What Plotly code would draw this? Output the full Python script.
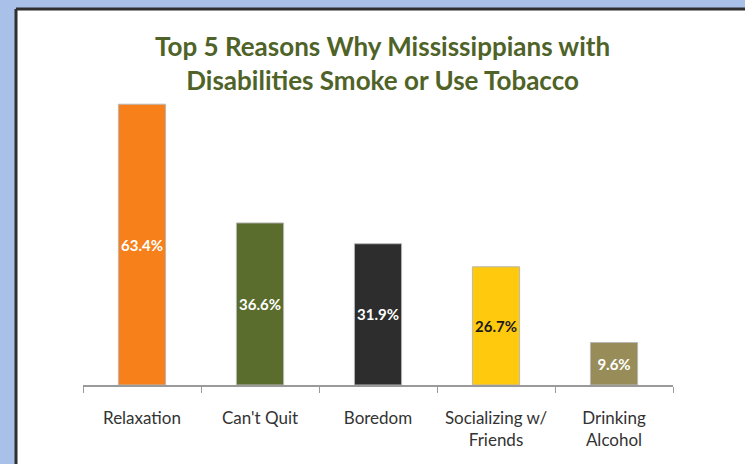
import plotly.graph_objects as go

categories = ["Relaxation", "Can't Quit", "Boredom", "Socializing w/<br>Friends", "Drinking<br>Alcohol"]
values = [63.4, 36.6, 31.9, 26.7, 9.6]
labels = ["63.4%", "36.6%", "31.9%", "26.7%", "9.6%"]
bar_colors = ["#F7801B", "#5A6D2D", "#2D2D2D", "#FFC90E", "#988D58"]
label_colors = ["#FFFFFF", "#FFFFFF", "#FFFFFF", "#1A1A1A", "#FFFFFF"]

W, H = 745, 464
L, R, T, B = 83, 72, 75, 79
pw, ph = W - L - R, H - T - B

def px(x):
    return (x - L) / pw

def py(y):
    return (H - B - y) / ph

fig = go.Figure(go.Bar(
    x=categories,
    y=values,
    text=labels,
    textposition="inside",
    insidetextanchor="middle",
    constraintext="none",
    textangle=0,
    textfont=dict(family="Lato", size=15, color=label_colors, weight="bold"),
    marker=dict(color=bar_colors, line=dict(color="#B8B8B8", width=1)),
    width=0.4,
    cliponaxis=False,
    hoverinfo="skip",
))

fig.update_layout(
    width=W, height=H,
    margin=dict(l=L, r=R, t=T, b=B),
    paper_bgcolor="#A9C1E9",
    plot_bgcolor="rgba(0,0,0,0)",
    showlegend=False,
    font=dict(family="Lato"),
    shapes=[
        dict(type="rect", xref="paper", yref="paper", layer="below",
             x0=px(16), x1=px(W + 5), y0=py(9), y1=py(H + 5),
             fillcolor="white", line=dict(width=0)),
        dict(type="line", xref="paper", yref="paper", layer="below",
             x0=px(16), x1=px(W + 5), y0=py(9), y1=py(9),
             line=dict(color="#2F2F2F", width=3)),
        dict(type="line", xref="paper", yref="paper", layer="below",
             x0=px(16), x1=px(16), y0=py(9), y1=py(H + 5),
             line=dict(color="#2F2F2F", width=3)),
    ],
    annotations=[
        dict(text="Top 5 Reasons Why Mississippians with<br>Disabilities Smoke or Use Tobacco",
             xref="paper", yref="paper", x=px(382), y=py(63),
             xanchor="center", yanchor="middle", showarrow=False,
             font=dict(family="Lato", size=26, color="#4F6228", weight="bold")),
    ],
)

fig.update_xaxes(
    type="category",
    showline=True, linecolor="#9A9A9A", linewidth=1.5,
    ticks="outside", tickson="boundaries", ticklen=6, tickcolor="#9A9A9A",
    tickfont=dict(family="Lato", size=17, color="#333333"),
    ticklabelstandoff=17,
    showgrid=False, range=[-0.5, 4.5],
)
fig.update_yaxes(range=[0, 70], visible=False, showgrid=False)

fig.write_html(
    "out.html",
    config={"displayModeBar": False, "staticPlot": True},
    post_script="document.body.style.margin='0';document.body.style.overflow='hidden';",
)
